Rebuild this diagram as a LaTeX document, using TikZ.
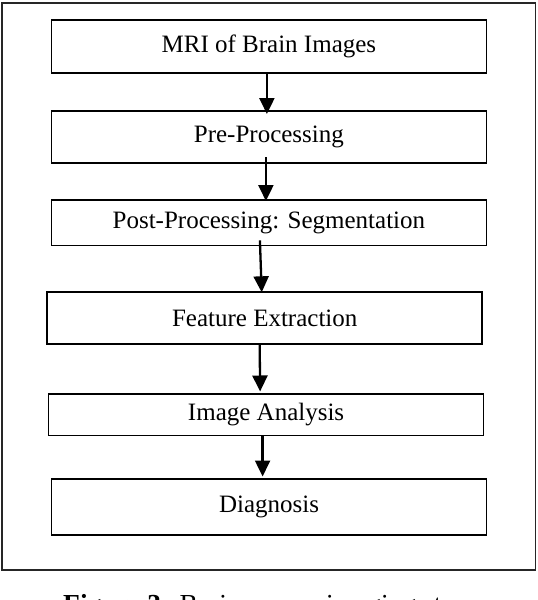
\documentclass[tikz,border=0pt]{standalone}
\usepackage{fontspec}
\setmainfont{Liberation Serif}
\usetikzlibrary{arrows.meta,positioning}

\begin{document}
\begin{tikzpicture}[
    x=1pt, y=1pt,
    stage/.style={rectangle, draw=black, line width=1.7pt, minimum width=435pt, inner sep=0pt, font=\fontsize{25}{30}\selectfont},
    flow/.style={-{Triangle[width=15pt,length=16pt]}, line width=2.3pt, black},
    frame/.style={draw=black!85, line width=1.5pt}
    ]

    \useasboundingbox (0,0) rectangle (538,-600);

    % Outer frame
    \draw[frame] (2,-3) rectangle (535.3,-570);

    % Steps, top to bottom
    \node[stage, minimum height=53.5pt] (mri) at (268.9,-46.4) {MRI of Brain Images};
    \node[stage, minimum height=52.3pt, below=36pt of mri] (pre) {Pre-Processing};
    \node[stage, minimum height=45.6pt, below=35pt of pre] (post) {Post-Processing: Segmentation};
    \node[stage, minimum height=51.5pt, below=45pt of post, xshift=-4.2pt] (feat) {Feature Extraction};
    \node[stage, minimum height=41.5pt, below=48.7pt of feat, xshift=1.4pt] (ana) {Image Analysis};
    \node[stage, minimum height=56pt, below=41.8pt of ana, xshift=2.9pt] (diag) {Diagnosis};

    % Arrows between steps
    \draw[flow] ([xshift=-2pt]mri.south) -- ([xshift=-2pt,yshift=-4pt]pre.north);
    \draw[flow] ([xshift=-3pt,yshift=7pt]pre.south) -- ([xshift=-3pt,yshift=-2pt]post.north);
    \draw[flow] ([xshift=-9pt,yshift=6pt]post.south) -- ([xshift=-3pt,yshift=-1pt]feat.north);
    \draw[flow] ([xshift=-5pt]feat.south) -- ([xshift=-6pt,yshift=1.7pt]ana.north);
    \draw[flow] ([xshift=-3.5pt]ana.south) -- ([xshift=-6.4pt,yshift=1.7pt]diag.north);

    % Caption (cut by the page edge)
    \node[anchor=base west, inner sep=0pt, font=\fontsize{27.5}{33}\selectfont] (caption) at (63,-613)
        {\textbf{Figure 3:} Brain cancer imaging steps};

\end{tikzpicture}
\end{document}
